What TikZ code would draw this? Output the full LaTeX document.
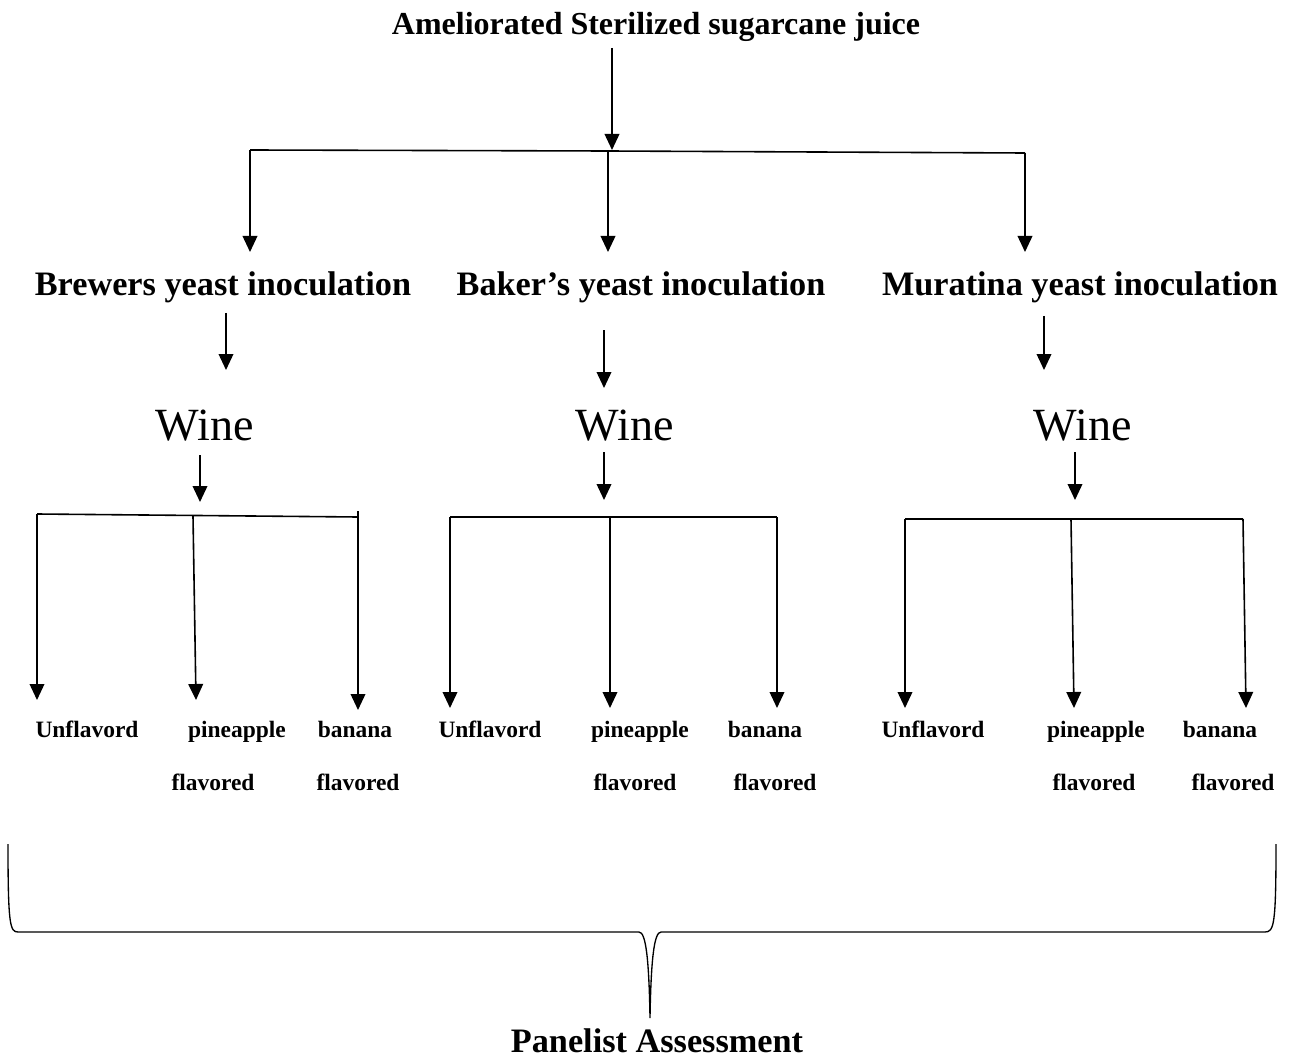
\documentclass[tikz,border=0pt]{standalone}
\usepackage{fontspec}
\setmainfont{Liberation Serif}
\usetikzlibrary{arrows.meta, positioning, calc}

\begin{document}
\begin{tikzpicture}[x=0.75pt,y=-0.75pt,->,>={Triangle[width=11pt,length=12pt]},
            line width=1.2pt,
            head/.style={anchor=base,font=\fontsize{25.7}{30}\selectfont\bfseries},
            wine/.style={anchor=base,font=\fontsize{34.6}{40}\selectfont},
            flav/.style={anchor=base,font=\fontsize{17.6}{20}\selectfont\bfseries}]
   \useasboundingbox (0,0) rectangle (1292,1059);
   % top
   \node[head,font=\fontsize{24}{28}\selectfont\bfseries] (juice) at (656,35) {Ameliorated Sterilized sugarcane juice};
   \coordinate (top) at (612,48);
   \coordinate (split) at (612,150);
   \coordinate (sA) at (250,150);
   \coordinate (sB) at (608,151);
   \coordinate (sC) at (1025,153);
   \draw (top) -- (split);
   \draw[-] (sA) -- (sB) -- (sC);
   % yeasts
   \node[head] (brewers) at (223,296) {Brewers yeast inoculation};
   \node[head] (baker) at (641,296) {Baker’s yeast inoculation};
   \node[head] (muratina) at (1080,296) {Muratina yeast inoculation};
   \draw (sA) -- (250,252);
   \draw (sB) -- (608,252);
   \draw (sC) -- (1025,252);
   % wines
   \node[wine] (wineA) at (205,440) {Wine};
   \node[wine] (wineB) at (625,440) {Wine};
   \node[wine] (wineC) at (1083,440) {Wine};
   \draw (226,313) -- (226,370);
   \draw (604,330) -- (604,388);
   \draw (1044,316) -- (1044,370);
   \draw (200,455) -- (200,502);
   \draw (604,452) -- (604,500);
   \draw (1075,452) -- (1075,500);
   % flavour splits
   \coordinate (aL) at (37,514);  \coordinate (aM) at (193,516); \coordinate (aR) at (358,517);
   \coordinate (bL) at (450,517); \coordinate (bM) at (610,517); \coordinate (bR) at (777,517);
   \coordinate (cL) at (905,519); \coordinate (cM) at (1071,519); \coordinate (cR) at (1243,519);
   \draw[-] (aL) -- (aR);
   \draw[-] (bL) -- (bR);
   \draw[-] (cL) -- (cR);
   \draw (aL) -- (37,700);
   \draw (aM) -- (196,700);
   \draw (358,511) -- (358,710);
   \draw (bL) -- (450,708);
   \draw (bM) -- (610,708);
   \draw (bR) -- (777,708);
   \draw (cL) -- (905,708);
   \draw (cM) -- (1074,708);
   \draw (cR) -- (1246,708);
   % labels
   \node[flav] (unA) at (87,737) {Unflavord};
   \node[flav] (pinA) at (237,737) {pineapple};
   \node[flav] (banA) at (355,737) {banana};
   \node[flav] (unB) at (490,737) {Unflavord};
   \node[flav] (pinB) at (640,737) {pineapple};
   \node[flav] (banB) at (765,737) {banana};
   \node[flav] (unC) at (933,737) {Unflavord};
   \node[flav] (pinC) at (1096,737) {pineapple};
   \node[flav] (banC) at (1220,737) {banana};
   \node[flav] (flA1) at (213,790) {flavored};
   \node[flav] (flA2) at (358,790) {flavored};
   \node[flav] (flB1) at (635,790) {flavored};
   \node[flav] (flB2) at (775,790) {flavored};
   \node[flav] (flC1) at (1094,790) {flavored};
   \node[flav] (flC2) at (1233,790) {flavored};
   % brace
   \draw[-,line width=1pt] (8,844) .. controls (8,925) and (10,932) .. (18,932) -- (639,932)
      .. controls (646,932) and (649,960) .. (650,1018)
      .. controls (651,960) and (654,932) .. (661,932) -- (1265,932)
      .. controls (1274,932) and (1276,925) .. (1276,844);
   \node[head] (panel) at (657,1052) {Panelist Assessment};
\end{tikzpicture}
\end{document}
